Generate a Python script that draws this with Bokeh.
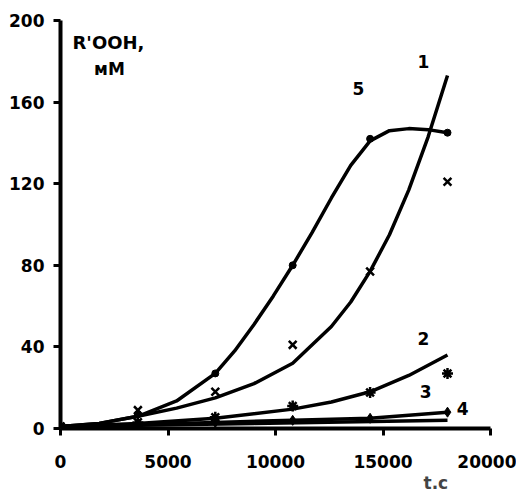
from bokeh.plotting import figure
from bokeh.models import Label, FixedTicker, Range1d, Title
from bokeh.embed import file_html
from bokeh.resources import INLINE

# measurement times, s
t_pts = [0, 3600, 7200, 10800, 14400, 18000]

# series 1 (x markers) and its fitted curve
s1_pts = [1, 9, 18, 41, 77, 121]
s1_line_t = [0, 1800, 3600, 5400, 7200, 9000, 10800, 12600, 13500, 14400, 15300, 16200, 17100, 18000]
s1_line_v = [1, 2.5, 6, 10, 15, 22, 32, 50, 62, 77, 95, 117, 143, 173]

# series 2 (asterisk markers) and its fitted curve
s2_pts = [1, 3, 5.5, 11, 17.6, 27]
s2_line_t = [0, 3600, 7200, 10800, 12600, 14400, 16200, 18000]
s2_line_v = [1, 2.5, 5, 9.5, 13, 18, 26, 36]

# series 3 (flat)
s3_line_t = [0, 9000, 18000]
s3_line_v = [1, 2.5, 4]

# series 4 (diamonds)
s4_pts = [1, 2, 3, 4, 5, 8]

# series 5 (dots) and its curve
s5_pts = [1, 7, 27, 80, 142, 145]
s5_line_t = [0, 1800, 3600, 5400, 7200, 8100, 9000, 9900, 10800, 11700, 12600, 13500, 14400, 15300, 16200, 17100, 18000]
s5_line_v = [1, 2.5, 6, 13.5, 27, 38, 51, 65, 80, 96, 113, 129, 141, 146, 147, 146.5, 145]

x_ticks = [0, 5000, 10000, 15000, 20000]
y_ticks = [0, 40, 80, 120, 160, 200]

FONT = "DejaVu Sans"

p = figure(width=516, height=494, output_backend="svg", toolbar_location=None,
           x_range=Range1d(0, 20000), y_range=Range1d(0, 200),
           min_border_left=60, min_border_right=26, min_border_top=20, min_border_bottom=66)
p.outline_line_color = None
p.grid.visible = False

for ax in (p.xaxis, p.yaxis):
    ax.axis_line_width = 4
    ax.axis_line_color = "black"
    ax.major_tick_line_width = 3
    ax.major_tick_out = 7
    ax.major_tick_in = 0
    ax.minor_tick_line_color = None
    ax.major_label_text_font = FONT
    ax.major_label_text_font_style = "bold"
    ax.major_label_text_font_size = "17px"
    ax.major_label_text_color = "black"
p.xaxis.ticker = FixedTicker(ticks=x_ticks)
p.yaxis.ticker = FixedTicker(ticks=y_ticks)
p.xaxis.major_label_standoff = 19
p.yaxis.major_label_standoff = 9

lw = 3.5
p.line(s1_line_t, s1_line_v, line_width=lw, color="black", line_join="round")
p.line(s2_line_t, s2_line_v, line_width=lw, color="black", line_join="round")
p.line(s3_line_t, s3_line_v, line_width=lw, color="black", line_join="round")
p.line(t_pts, s4_pts, line_width=lw, color="black", line_join="round")
p.line(s5_line_t, s5_line_v, line_width=lw, color="black", line_join="round")

p.scatter(t_pts, s1_pts, marker="x", size=11, line_width=2.5, color="black")
p.scatter(t_pts, s2_pts, marker="asterisk", size=11, line_width=2.5, color="black")
p.scatter(t_pts, s4_pts, marker="diamond", size=10, color="black")
p.scatter(t_pts, s5_pts, marker="circle", size=7, color="black")

def lab(x, y, txt, size="17px"):
    p.add_layout(Label(x=x, y=y, text=txt, text_font=FONT, text_font_style="bold",
                       text_font_size=size, text_align="center", text_baseline="middle",
                       text_color="black"))

lab(16880, 180, "1")
lab(13860, 166.7, "5")
lab(16880, 44.1, "2")
lab(16980, 18.1, "3")
lab(18700, 9.8, "4")
lab(2230, 189, "R'OOH,", "18px")
lab(2280, 176, "мМ", "17px")

p.add_layout(Title(text="t.c", align="left", offset=363, text_font=FONT,
                   text_font_style="bold", text_font_size="17px", standoff=0), "below")

open("out.html", "w").write(file_html(p, INLINE))
